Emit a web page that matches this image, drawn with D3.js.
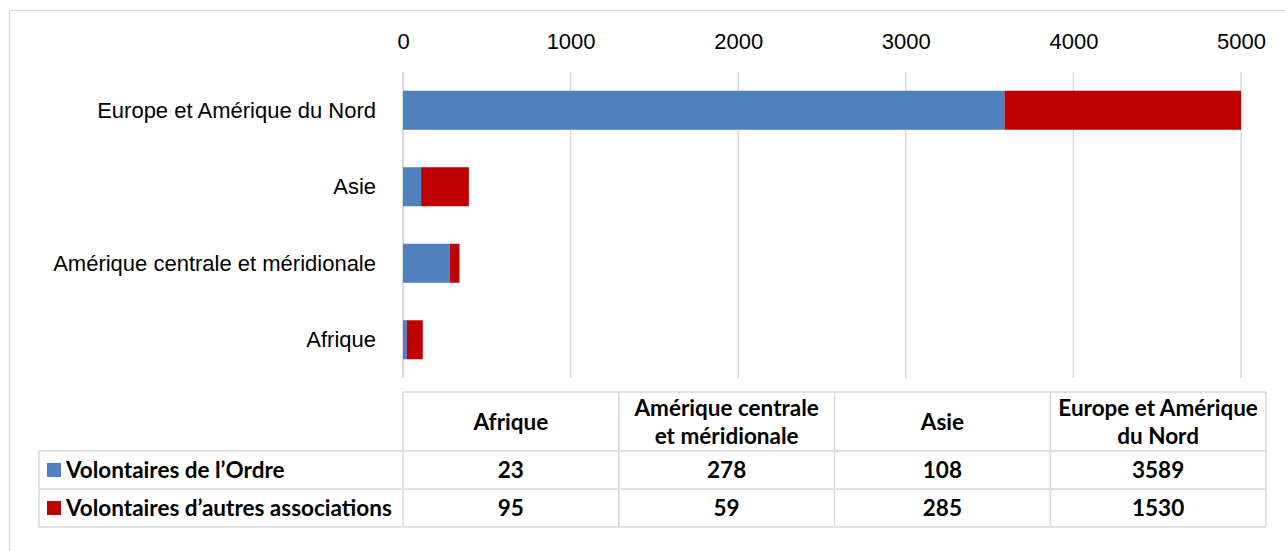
<!DOCTYPE html>
<html>
<head>
<meta charset="utf-8">
<script src="https://cdn.jsdelivr.net/npm/d3@7"></script>
<style>
  body { margin: 0; background: #fff; }
  svg { font-family: Lato, "Open Sans", sans-serif; }
  .tick text { font-size: 22px; fill: #000; }
  .cell { font-size: 22.5px; font-weight: bold; fill: #000; }
</style>
</head>
<body>
<div id="chart"></div>
<script>
const categories = ["Afrique", "Amérique centrale et méridionale", "Asie", "Europe et Amérique du Nord"];
const tableHeaders = ["Afrique", "Amérique centrale\net méridionale", "Asie", "Europe et Amérique\ndu Nord"];
const seriesNames = ["Volontaires de l\u2019Ordre", "Volontaires d\u2019autres associations"];
const ordre = [23, 278, 108, 3589];
const autres = [95, 59, 285, 1530];
const xTicks = [0, 1000, 2000, 3000, 4000, 5000];
const colors = ["#4F81BD", "#C00000"];

const width = 1285, height = 551;
const grid = "#d9d9d9";

const svg = d3.select("#chart").append("svg")
  .attr("width", width)
  .attr("height", height);

// chart frame
svg.append("rect")
  .attr("x", 9.5).attr("y", 10.5)
  .attr("width", 1400).attr("height", 700)
  .attr("fill", "none").attr("stroke", grid).attr("stroke-width", 1.3);

// axis max fixed at 5000, longer bars get cut at the plot edge
const x = d3.scaleLinear().domain([0, 5000]).range([403, 1241]).clamp(true);
const y = d3.scaleBand()
  .domain(categories.slice().reverse())
  .range([72, 378])
  .paddingInner(0.49)
  .paddingOuter(0.245);

// gridlines
svg.append("g")
  .selectAll("line")
  .data(xTicks)
  .join("line")
  .attr("x1", d => x(d)).attr("x2", d => x(d))
  .attr("y1", 72).attr("y2", 378)
  .attr("stroke", grid)
  .attr("stroke-width", d => d === 0 ? 2 : 1.5);

// top axis labels
const xAxis = svg.append("g")
  .attr("transform", "translate(0,49)")
  .call(d3.axisTop(x).tickValues(xTicks).tickSize(0).tickPadding(0).tickFormat(d3.format("d")));
xAxis.select(".domain").remove();

// category labels
const yAxis = svg.append("g")
  .attr("transform", "translate(403,0)")
  .call(d3.axisLeft(y).tickSize(0).tickPadding(27));
yAxis.select(".domain").remove();
yAxis.selectAll("text").attr("dy", "0.33em");

// stacked bars
const rows = categories.map((c, i) => ({ cat: c, ordre: ordre[i], autres: autres[i] }));
const stack = d3.stack().keys(["ordre", "autres"])(rows);

svg.append("g")
  .selectAll("g")
  .data(stack)
  .join("g")
  .attr("fill", (d, i) => colors[i])
  .selectAll("rect")
  .data(d => d)
  .join("rect")
  .attr("x", d => x(d[0]))
  .attr("width", d => x(d[1]) - x(d[0]))
  .attr("y", d => y(d.data.cat))
  .attr("height", y.bandwidth());

// data table
const colX = d3.scaleBand().domain(categories).range([403, 1266]);
const tableTop = 392, headerBottom = 451, rowH = 38;
const tableBottom = headerBottom + rowH * 2;
const legendLeft = 39;

const t = svg.append("g");
const line = (x1, y1, x2, y2) => t.append("line")
  .attr("x1", x1).attr("y1", y1).attr("x2", x2).attr("y2", y2)
  .attr("stroke", grid).attr("stroke-width", 1.5);

line(403, tableTop, 1266, tableTop);
line(legendLeft, headerBottom, 1266, headerBottom);
line(legendLeft, headerBottom + rowH, 1266, headerBottom + rowH);
line(legendLeft, tableBottom, 1266, tableBottom);
line(legendLeft, headerBottom, legendLeft, tableBottom);
colX.domain().forEach(c => line(colX(c), tableTop, colX(c), tableBottom));
line(1266, tableTop, 1266, tableBottom);

// header cells
categories.forEach((c, i) => {
  const lines = tableHeaders[i].split("\n");
  const cy = (tableTop + headerBottom) / 2;
  const txt = t.append("text").attr("class", "cell")
    .attr("text-anchor", "middle")
    .attr("x", colX(c) + colX.bandwidth() / 2);
  lines.forEach((l, j) => {
    txt.append("tspan")
      .attr("x", colX(c) + colX.bandwidth() / 2)
      .attr("y", cy + (j - (lines.length - 1) / 2) * 28)
      .attr("dy", "0.36em")
      .text(l);
  });
});

// value rows with legend keys
[ordre, autres].forEach((vals, r) => {
  const cy = headerBottom + rowH * r + rowH / 2;
  t.append("rect")
    .attr("x", 47).attr("y", cy - 7)
    .attr("width", 14).attr("height", 14)
    .attr("fill", colors[r]);
  t.append("text").attr("class", "cell")
    .attr("x", 66).attr("y", cy).attr("dy", "0.36em")
    .text(seriesNames[r]);
  vals.forEach((v, i) => {
    t.append("text").attr("class", "cell")
      .attr("text-anchor", "middle")
      .attr("x", colX(categories[i]) + colX.bandwidth() / 2)
      .attr("y", cy).attr("dy", "0.36em")
      .text(v);
  });
});
</script>
</body>
</html>
